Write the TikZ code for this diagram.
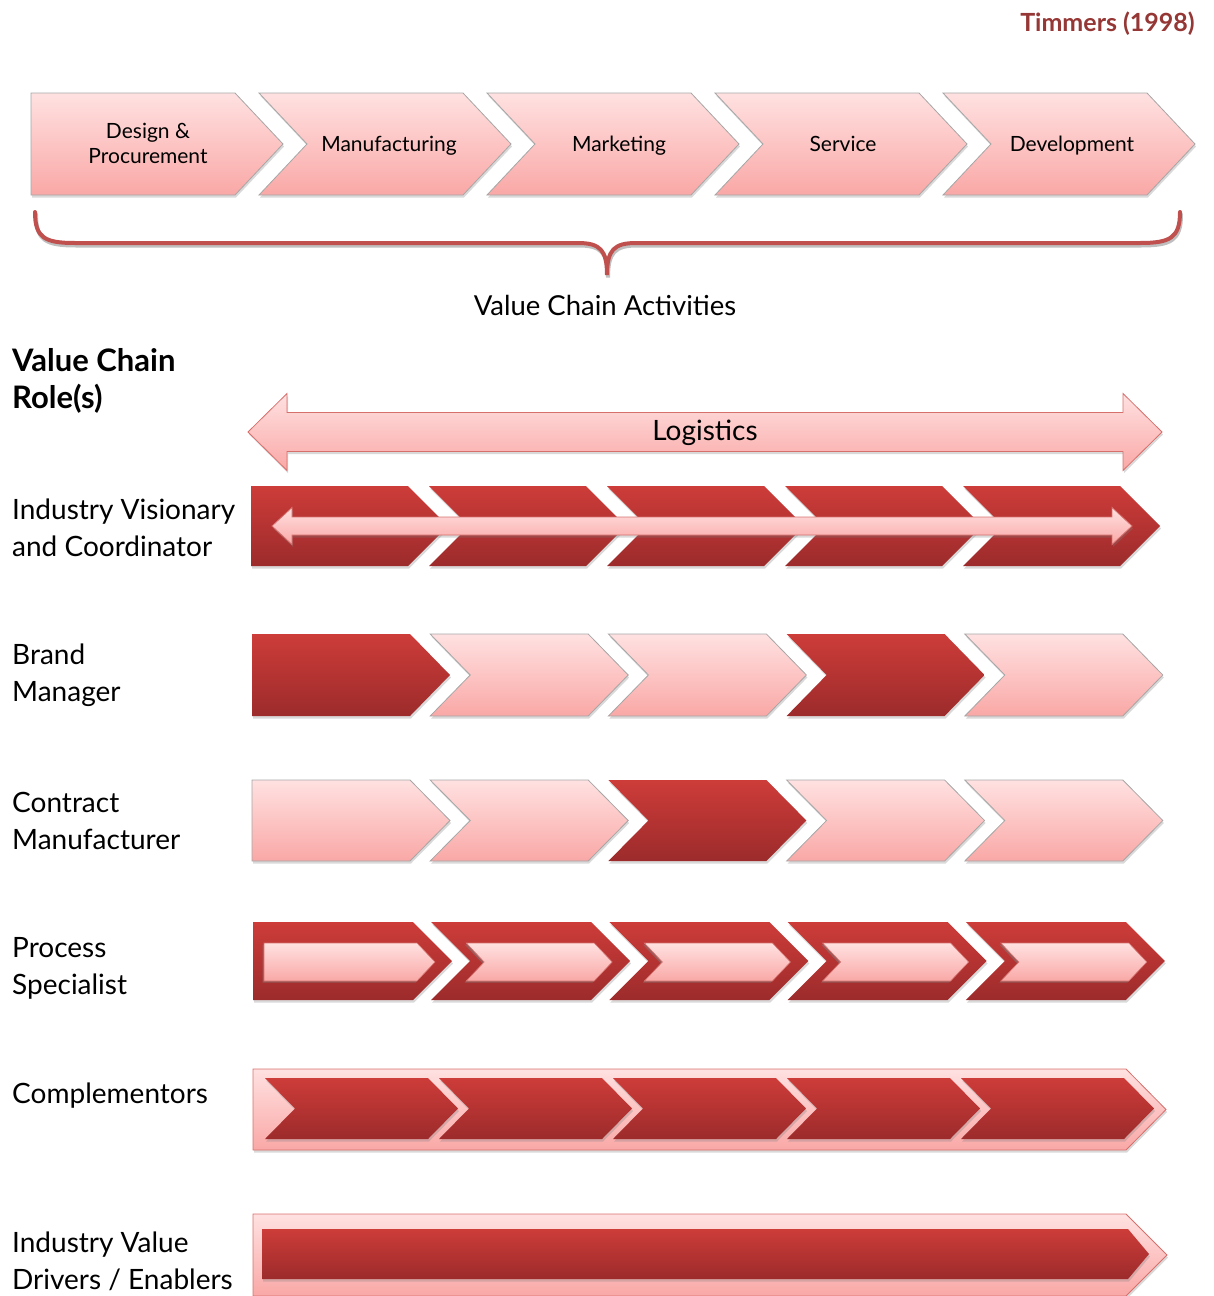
\documentclass[tikz,border=0pt]{standalone}
\usepackage{fontspec}
\setmainfont{Lato}
\usetikzlibrary{shadows,positioning}
\definecolor{liteTop}{HTML}{FFE1E1}
\definecolor{liteBot}{HTML}{F9A8A6}
\definecolor{liteEdge}{HTML}{A6A6A6}
\definecolor{darkTop}{HTML}{CD3C39}
\definecolor{darkBot}{HTML}{9C2B2B}
\definecolor{rimEdge}{HTML}{D6706D}
\definecolor{braceRed}{HTML}{C0504D}
\definecolor{srcRed}{HTML}{953735}
% chevron / pentagon: style, left, top, length, height, point depth
\newcommand{\chev}[6]{%
  \path[#1] (#2,#3) -- ++({#4-#6},0) -- ++(#6,{#5/2}) -- ++({-#6},{#5/2})
    -- ++({#6-#4},0) -- ++(#6,{-#5/2}) -- cycle;}
\newcommand{\pent}[6]{%
  \path[#1] (#2,#3) -- ++({#4-#6},0) -- ++(#6,{#5/2}) -- ++({-#6},{#5/2})
    -- ++({#6-#4},0) -- cycle;}
% double arrow: style, left tip, right tip, mid y, half shaft, half head, head length
\newcommand{\dblarrow}[7]{%
  \path[#1] (#2,#4) -- ++(#7,{-#6}) -- ++(0,{#6-#5}) -- ({#3-#7},{#4-#5})
    -- ++(0,{#5-#6}) -- (#3,#4) -- ({#3-#7},{#4+#6}) -- ++(0,{#5-#6})
    -- ({#2+#7},{#4+#5}) -- ++(0,{#6-#5}) -- cycle;}
% curly brace under the activities
\newcommand{\bracepath}{(35,212) .. controls (35,238) and (45,243) .. (75,243) -- (578,243)
    .. controls (600,243) and (607,250) .. (607,275)
    .. controls (607,250) and (614,243) .. (636,243) -- (1140,243)
    .. controls (1170,243) and (1180,238) .. (1180,212)}

\begin{document}
\begin{tikzpicture}[x=1pt,y=-1pt,
  shade/.style={drop shadow={opacity=0.3,shadow xshift=1pt,shadow yshift=-2.5pt}},
  lite/.style={shade,top color=liteTop,bottom color=liteBot,draw=liteEdge,line width=0.8pt},
  dark/.style={shade,top color=darkTop,bottom color=darkBot},
  frame/.style={shade,top color=liteTop,bottom color=liteBot,draw=rimEdge,line width=0.8pt},
  inset/.style={drop shadow={opacity=0.5,shadow xshift=-1.5pt,shadow yshift=-1.5pt},
    top color=liteTop,bottom color=liteBot,draw=rimEdge,line width=0.6pt},
  toplabel/.style={font=\fontsize{21}{25}\selectfont,align=center,anchor=base,inner sep=0pt},
  rolelabel/.style={font=\fontsize{28}{37}\selectfont,align=left,anchor=west,inner sep=0pt}]
  \useasboundingbox (0,0) rectangle (1213,1296);

  \node[anchor=east,inner sep=0pt,text=srcRed,font=\fontsize{25}{30}\selectfont\bfseries] (src) at (1195,24) {Timmers (1998)};

  % value chain activities
  \pent{lite}{31}{93}{252}{102}{48}
  \foreach \i in {1,...,4}{
    \pgfmathsetmacro\L{31+228*\i}
    \chev{lite}{\L}{93}{252}{102}{48}}
  \node[toplabel] (act1) at (148,163) {Design \&\\Procurement};
  \node[toplabel] (act2) at (389,151) {Manufacturing};
  \node[toplabel] (act3) at (619,151) {Marketing};
  \node[toplabel] (act4) at (843,151) {Service};
  \node[toplabel] (act5) at (1072,151) {Development};

  \draw[black!25,line width=4pt,line cap=round,transform canvas={xshift=1pt,yshift=-2.5pt}] \bracepath;
  \draw[braceRed,line width=4pt,line cap=round] \bracepath;
  \node[font=\fontsize{27.5}{32}\selectfont] (acts) at (605,305) {Value Chain Activities};

  % roles
  \node[rolelabel,font=\fontsize{31}{37}\selectfont\bfseries] (roles) at (12,381) {Value Chain\\Role(s)};

  \dblarrow{frame}{248}{1162}{432}{19.5}{38.5}{39}
  \node[font=\fontsize{28}{32}\selectfont] (logi) at (705,433) {Logistics};

  % industry visionary and coordinator
  \pent{dark}{251}{486}{197}{80}{40}
  \foreach \i in {1,...,4}{
    \pgfmathsetmacro\L{251+178*\i}
    \chev{dark}{\L}{486}{197}{80}{40}}
  \dblarrow{frame}{272}{1132}{526}{9}{18.5}{20}
  \node[rolelabel] (r1) at (12,528) {Industry Visionary\\and Coordinator};

  % brand manager
  \foreach \k [count=\i from 0] in {1,0,0,1,0}{
    \pgfmathsetmacro\L{252+178.2*\i}
    \ifnum\k=1 \tikzset{cell/.style={dark}}\else\tikzset{cell/.style={lite}}\fi
    \ifnum\i=0 \pent{cell}{\L}{634}{198}{82}{40}\else\chev{cell}{\L}{634}{198}{82}{40}\fi}
  \node[rolelabel] (r2) at (12,675) {Brand\\Manager};

  % contract manufacturer
  \foreach \k [count=\i from 0] in {0,0,1,0,0}{
    \pgfmathsetmacro\L{252+178.2*\i}
    \ifnum\k=1 \tikzset{cell/.style={dark}}\else\tikzset{cell/.style={lite}}\fi
    \ifnum\i=0 \pent{cell}{\L}{780}{198}{81}{40}\else\chev{cell}{\L}{780}{198}{81}{40}\fi}
  \node[rolelabel] (r3) at (12,821) {Contract\\Manufacturer};

  % process specialist
  \foreach \i in {0,...,4}{
    \pgfmathsetmacro\L{253+178.2*\i}
    \ifnum\i=0
      \pent{dark}{\L}{922}{199}{78}{39}
      \pent{inset}{\L+11}{943}{171}{38}{18}
    \else
      \chev{dark}{\L}{922}{199}{78}{39}
      \chev{inset}{\L+35}{943}{146}{38}{18}
    \fi}
  \node[rolelabel] (r4) at (12,968) {Process\\Specialist};

  % complementors
  \pent{frame}{253}{1069}{913}{81}{40}
  \foreach \i in {0,...,4}{
    \pgfmathsetmacro\L{265+174*\i}
    \chev{dark}{\L}{1078}{193}{61}{30}}
  \node[rolelabel] (r5) at (12,1096) {Complementors};

  % industry value drivers / enablers
  \pent{frame}{253}{1214}{914}{82}{41}
  \pent{dark}{262}{1229}{887}{50}{21}
  \node[rolelabel] (r6) at (12,1261) {Industry Value\\Drivers / Enablers};
\end{tikzpicture}
\end{document}
